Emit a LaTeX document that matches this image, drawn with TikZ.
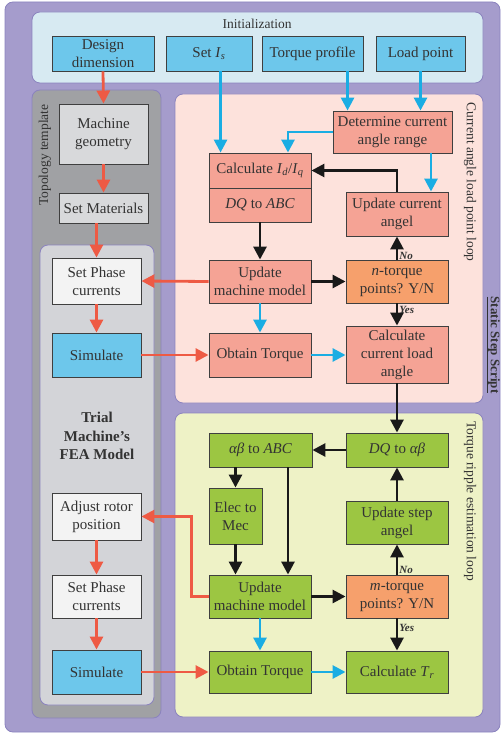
\documentclass[tikz,border=0pt]{standalone}
\usepackage{fontspec}
\setmainfont{Liberation Serif}
\usetikzlibrary{arrows.meta}
\definecolor{outerbg}{HTML}{A59CCC}
\definecolor{panelline}{HTML}{8B83BE}
\definecolor{initbg}{HTML}{D7EAF2}
\definecolor{topobg}{HTML}{A0A1A4}
\definecolor{feabg}{HTML}{D3D4D8}
\definecolor{curbg}{HTML}{FDE2DC}
\definecolor{trqbg}{HTML}{EEF2C6}
\definecolor{cyanbox}{HTML}{6DC7EB}
\definecolor{greybox}{HTML}{D8D9DB}
\definecolor{whitebox}{HTML}{F3F3F3}
\definecolor{salmonbox}{HTML}{F5A395}
\definecolor{orangebox}{HTML}{F6A06C}
\definecolor{greenbox}{HTML}{9CC642}
\definecolor{boxline}{HTML}{3F3F3F}
\definecolor{arrred}{HTML}{EE5A44}
\definecolor{arrblue}{HTML}{1AADE3}
\definecolor{textgrey}{HTML}{333333}
\tikzset{
  box/.style={draw=boxline, line width=0.9pt, align=center, inner sep=1pt,
    text=textgrey, font=\fontsize{15}{18}\selectfont},
  bluebox/.style={box, fill=cyanbox},
  greybox/.style={box, fill=greybox},
  whitebox/.style={box, fill=whitebox},
  pinkbox/.style={box, fill=salmonbox},
  orgbox/.style={box, fill=orangebox},
  grnbox/.style={box, fill=greenbox},
  panel/.style={rounded corners=8pt, draw=panelline, line width=0.8pt},
  arr/.style={line width=2.8pt, -{Triangle[length=13pt,width=13pt]}},
  redarr/.style={arr, draw=arrred},
  bluearr/.style={arr, draw=arrblue},
  blkarr/.style={arr, draw=black!90},
  lbl/.style={text=textgrey, font=\fontsize{13.5}{16}\selectfont},
  yn/.style={text=textgrey, inner sep=1pt, font=\fontsize{11}{12}\selectfont\bfseries\itshape}
}
\begin{document}
\begin{tikzpicture}[x=1pt,y=-1pt]
\useasboundingbox (0,0) rectangle (503,735);
\draw[panel, fill=outerbg] (5,2) rectangle (500,732);
\draw[panel, fill=initbg] (32,12) rectangle (483,83);
\draw[panel, fill=topobg] (32,90) rectangle (161,718);
\draw[panel, fill=feabg] (40,245) rectangle (154,705);
\draw[panel, fill=curbg] (175,94) rectangle (483,403);
\draw[panel, fill=trqbg] (175,413) rectangle (483,717);

\node[lbl] (init) at (257,24) {Initialization};
\node[lbl, rotate=90] (topo) at (45,155) {Topology template};
\node[lbl, rotate=-90] (curlbl) at (470,182) {Current angle load point loop};
\node[lbl, rotate=-90] (trqlbl) at (470,501) {Torque ripple estimation loop};
\node[lbl, rotate=-90, font=\fontsize{13}{16}\selectfont\bfseries] (ssc) at (493,345) {\underline{Static Step Script}};
\node[align=center, text=textgrey, font=\fontsize{15}{18.5}\selectfont\bfseries] (fea) at (97,436) {Trial\\Machine's\\FEA Model};

\node[bluebox, minimum width=102pt, minimum height=35pt] (dd) at (103,53.5) {Design\\dimension};
\node[bluebox, minimum width=86pt, minimum height=35pt] (Is) at (209,53.5) {Set \textit{I}\textsubscript{\textit{s}}};
\node[bluebox, minimum width=101pt, minimum height=35pt] (tp) at (312.5,53.5) {Torque profile};
\node[bluebox, minimum width=89pt, minimum height=35pt] (lp) at (420.5,53.5) {Load point};

\node[greybox, minimum width=89pt, minimum height=60pt] (geo) at (103.5,134) {Machine\\geometry};
\node[greybox, minimum width=89pt, minimum height=30pt] (mat) at (103.5,208) {Set Materials};
\node[whitebox, minimum width=89pt, minimum height=46pt] (sp1) at (96.5,281) {Set Phase\\currents};
\node[bluebox, minimum width=89pt, minimum height=44pt] (sim1) at (96.5,355) {Simulate};
\node[whitebox, minimum width=89pt, minimum height=47pt] (adj) at (96.5,516.5) {Adjust rotor\\position};
\node[whitebox, minimum width=89pt, minimum height=43pt] (sp2) at (96.5,596.5) {Set Phase\\currents};
\node[bluebox, minimum width=89pt, minimum height=44pt] (sim2) at (96.5,672) {Simulate};

\node[pinkbox, minimum width=102pt, minimum height=35pt] (calc) at (260,170.5) {Calculate \textit{I}\textsubscript{\textit{d}}/\textit{I}\textsubscript{\textit{q}}};
\node[pinkbox, minimum width=102pt, minimum height=34pt] (dqabc) at (260,205) {\textit{DQ} to \textit{ABC}};
\node[pinkbox, minimum width=102pt, minimum height=43pt] (upd1) at (260,281.5) {Update\\machine model};
\node[pinkbox, minimum width=102pt, minimum height=44pt] (ot1) at (260,355) {Obtain Torque};
\node[pinkbox, minimum width=119pt, minimum height=42pt] (det) at (392.5,132) {Determine current\\angle range};
\node[pinkbox, minimum width=102pt, minimum height=44pt] (uca) at (397,214) {Update current\\angel};
\node[orgbox, minimum width=102pt, minimum height=43pt] (nt) at (397,281.5) {\textit{n}-torque\\points? Y/N};
\node[pinkbox, minimum width=102pt, minimum height=57pt] (cla) at (397,354.5) {Calculate\\current load\\angle};

\node[grnbox, minimum width=103pt, minimum height=34pt] (ab) at (260.5,450) {\textit{αβ} to \textit{ABC}};
\node[grnbox, minimum width=102pt, minimum height=34pt] (dqab) at (397,450) {\textit{DQ} to \textit{αβ}};
\node[grnbox, minimum width=53pt, minimum height=56pt] (em) at (235.5,516) {Elec to\\Mec};
\node[grnbox, minimum width=102pt, minimum height=43pt] (usa) at (397,522.5) {Update step\\angel};
\node[grnbox, minimum width=102pt, minimum height=43pt] (upd2) at (260,596.5) {Update\\machine model};
\node[orgbox, minimum width=102pt, minimum height=43pt] (mt) at (397,596.5) {\textit{m}-torque\\points? Y/N};
\node[grnbox, minimum width=102pt, minimum height=42pt] (ot2) at (260,672) {Obtain Torque};
\node[grnbox, minimum width=102pt, minimum height=42pt] (ctr) at (397,672) {Calculate \textit{T}\textsubscript{\textit{r}}};

\coordinate (isin) at ([xshift=12pt]calc.north west);
\coordinate (tpin) at ([xshift=15pt]det.north west);
\coordinate (detin) at ([xshift=28pt]calc.north);
\coordinate (abm) at ([xshift=28pt]upd2.north);

\draw[redarr] (dd.south) -- (geo.north);
\draw[redarr] (geo.south) -- (mat.north);
\draw[redarr] (sp1.north |- mat.south) -- (sp1.north);
\draw[redarr] (sp1.south) -- (sim1.north);
\draw[redarr] (upd1.west) -- (sp1.east);
\draw[redarr] (sim1.east) -- (ot1.west);
\draw[redarr] (upd2.west) -- ++(-17,0) |- (adj.east);
\draw[redarr] (adj.south) -- (sp2.north);
\draw[redarr] (sp2.south) -- (sim2.north);
\draw[redarr] (sim2.east) -- (ot2.west);

\draw[bluearr] (Is.south -| isin) -- (isin);
\draw[bluearr] (tp.south -| tpin) -- (tpin);
\draw[bluearr] (lp.south) -- (lp.south |- det.north);
\draw[bluearr] (det.west) -| (detin);
\draw[bluearr] ([xshift=38.5pt]det.south) -- ([xshift=34pt]uca.north);
\draw[bluearr] (upd1.south) -- (ot1.north);
\draw[bluearr] (ot1.east) -- (cla.west |- ot1.east);
\draw[bluearr] (upd2.south) -- (ot2.north);
\draw[bluearr] (ot2.east) -- (ctr.west);

\draw[blkarr] (uca.north) |- (calc.east);
\draw[blkarr] (dqabc.south) -- (upd1.north);
\draw[blkarr] (upd1.east) -- (nt.west);
\draw[blkarr] (nt.north) -- node[yn, pos=0.15, anchor=west] {No} (uca.south);
\draw[blkarr] (nt.south) -- node[yn, pos=0.3, anchor=west] {Yes} (cla.north);
\draw[blkarr] (cla.south) -- (dqab.north);
\draw[blkarr] (dqab.west) -- (ab.east);
\draw[blkarr] (ab.south -| em.north) -- (em.north);
\draw[blkarr] (ab.south -| abm) -- (abm);
\draw[blkarr] (em.south) -- (em.south |- upd2.north);
\draw[blkarr] (usa.north) -- (dqab.south);
\draw[blkarr] (upd2.east) -- (mt.west);
\draw[blkarr] (mt.north) -- node[yn, pos=0.15, anchor=west] {No} (usa.south);
\draw[blkarr] (mt.south) -- node[yn, pos=0.3, anchor=west] {Yes} (ctr.north);
\end{tikzpicture}
\end{document}
